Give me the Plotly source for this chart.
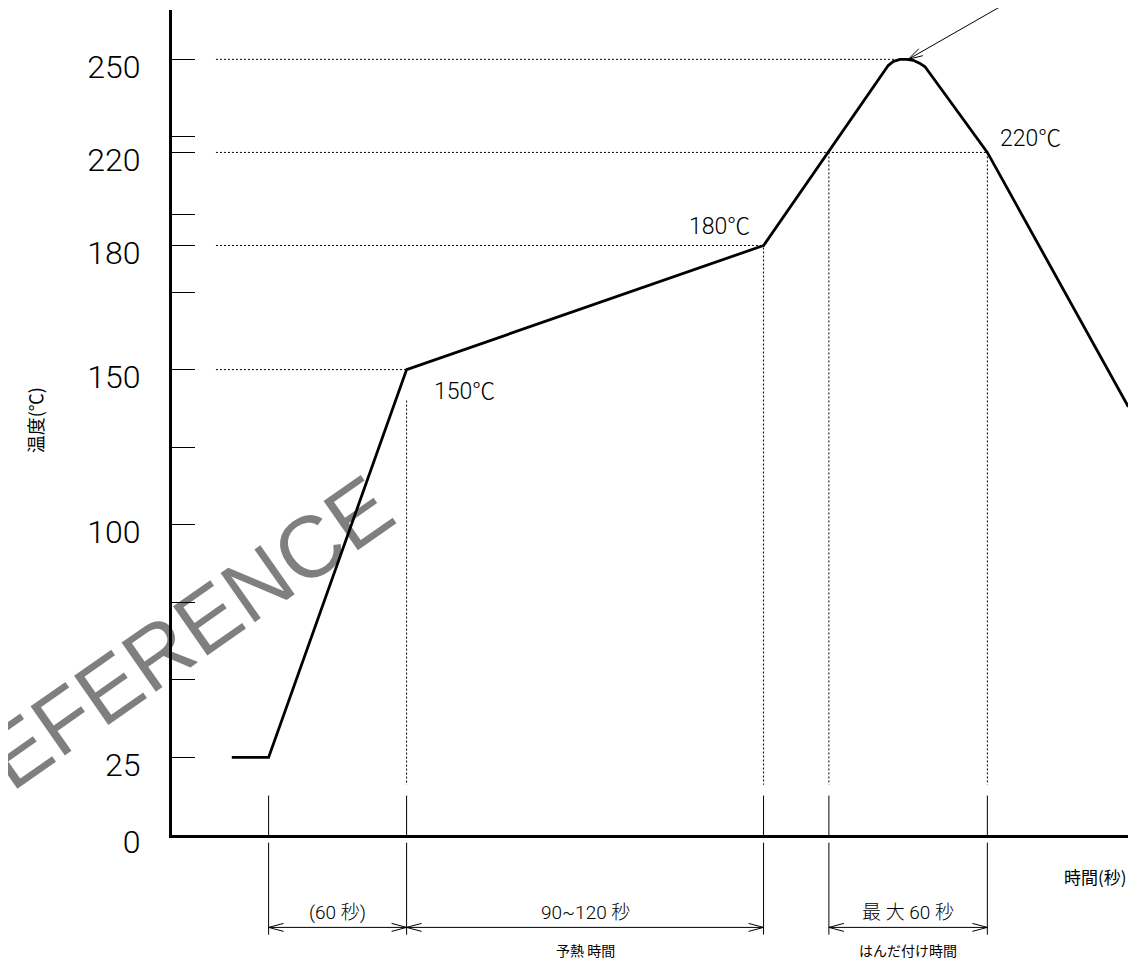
import numpy as np
import plotly.graph_objects as go

# ---------------- data (schematic reflow soldering profile) ----------------
time_s = [26, 42, 102, 257.2, 311.4, 313.6, 316.5, 319.4, 322.3, 325.2, 327.4, 354.5, 415.8]
temp_c = [25, 25, 150, 180, 248.0, 249.3, 250.0, 250.0, 249.7, 248.7, 247.6, 220, 138]

tick_temps = [0, 25, 100, 150, 180, 220, 250]
tick_texts = ["0", "25", "100", "150", "180", "220", "250"]
tick_axis_pos = [0, 25, 100, 150, 190, 220, 250]      # schematic (non-linear) drawing scale
minor_axis_pos = [50, 75, 125, 175, 200, 225]

ref_temps = [150, 180, 220, 250]
ref_end_times = [102, 257.2, 354.5, 315.0]

phase_times = [42, 102, 257.2, 285.6, 354.5]
phase_temps = [25, 150, 180, 220, 220]

point_labels = ["150℃", "180℃", "220℃"]
point_idx = [1, 2, 4]

dim_upper = ["(60 秒)", "90~120 秒", "最 大 60 秒"]
dim_lower = ["", "予熱 時間", "はんだ付け時間"]
dim_spans = [(0, 1), (1, 2), (3, 4)]

x_title = "時間(秒)"
y_title = "温度(℃)"
watermark = "REFERENCE"


def to_axis(t):
    return np.interp(t, tick_temps, tick_axis_pos)


NARROW = "Roboto, Liberation Sans, Noto Sans CJK JP, sans-serif"
CJK = "Noto Sans CJK JP, sans-serif"
PX_Y = 3.104  # pixels per y unit (for small pixel gaps)

fig = go.Figure()
fig.add_trace(go.Scatter(x=time_s, y=to_axis(temp_c), mode="lines",
                         line=dict(color="black", width=2.8), hoverinfo="skip"))

shapes = []
dot = dict(color="black", width=1, dash="2px,2px")
# horizontal reference lines
for T, te in zip(ref_temps, ref_end_times):
    yy = float(to_axis(T))
    shapes.append(dict(type="line", xref="x", yref="y", x0=19.1, x1=te, y0=yy, y1=yy, line=dot))
# vertical dotted lines down from the curve
gaps_px = [None, 31, 2, 0, 0]
for t, T, g in zip(phase_times, phase_temps, gaps_px):
    if g is None:
        continue
    shapes.append(dict(type="line", xref="x", yref="y", x0=t, x1=t,
                       y0=float(to_axis(T)) - g / PX_Y, y1=16.2, line=dot))
# solid extension lines (above and below the time axis)
for t in phase_times:
    shapes.append(dict(type="line", xref="x", yref="y", x0=t, x1=t, y0=0, y1=12.7,
                       line=dict(color="black", width=1)))
    shapes.append(dict(type="line", xref="x", yref="paper", x0=t, x1=t, y0=-0.0093, y1=-0.1208,
                       line=dict(color="black", width=1)))
# dimension lines with open arrowheads
ydim = -0.112
for a, b in dim_spans:
    ta, tb = phase_times[a], phase_times[b]
    shapes.append(dict(type="line", xref="x", yref="paper", x0=ta, x1=tb, y0=ydim, y1=ydim,
                       line=dict(color="black", width=1)))
    for tip, sgn in ((ta, 1), (tb, -1)):
        shapes.append(dict(type="path", xref="x", yref="paper", xsizemode="pixel", ysizemode="pixel",
                           xanchor=tip, yanchor=ydim,
                           path=f"M{15*sgn},4 L0,0 L{15*sgn},-4",
                           line=dict(color="black", width=1)))
# arrowhead of the peak pointer
ang = np.arctan2(59, 104)
p1 = (15 * np.cos(ang + 0.27), 15 * np.sin(ang + 0.27))
p2 = (15 * np.cos(ang - 0.27), 15 * np.sin(ang - 0.27))
peak_t, peak_y = 320.1, 250.0
shapes.append(dict(type="path", xref="x", yref="y", xsizemode="pixel", ysizemode="pixel",
                   xanchor=peak_t, yanchor=peak_y,
                   path=f"M{p1[0]:.2f},{p1[1]:.2f} L0,0 L{p2[0]:.2f},{p2[1]:.2f}",
                   line=dict(color="black", width=1)))

ann = []
# peak pointer line (tail leaves the top of the page)
ann.append(dict(x=peak_t, y=peak_y, xref="x", yref="y", text="", showarrow=True,
                arrowhead=0, arrowwidth=1, arrowcolor="black",
                axref="x", ayref="y", ax=377.4, ay=274.3, standoff=0))
# point labels
offs = [(25, -22, "left"), (-12, 19, "right"), (11, 14, "left")]
for lab, i, (dx, dy, xa) in zip(point_labels, point_idx, offs):
    ann.append(dict(x=phase_times[i], y=float(to_axis(phase_temps[i])), xref="x", yref="y",
                    text=lab, showarrow=False, xanchor=xa, yanchor="middle", xshift=dx, yshift=dy,
                    font=dict(family=NARROW, size=23, color="black", weight=300)))
# dimension texts
for (a, b), up, lo in zip(dim_spans, dim_upper, dim_lower):
    xm = (phase_times[a] + phase_times[b]) / 2
    ann.append(dict(x=xm, y=-0.094, xref="x", yref="paper", text=up, showarrow=False,
                    xanchor="center", yanchor="middle",
                    font=dict(family=NARROW, size=19, color="black", weight=300)))
    if lo:
        ann.append(dict(x=xm, y=-0.139, xref="x", yref="paper", text=lo, showarrow=False,
                        xanchor="center", yanchor="middle",
                        font=dict(family=CJK, size=14, color="black")))
# axis titles
ann.append(dict(x=0.9665, y=-0.0505, xref="paper", yref="paper", text=x_title, showarrow=False,
                xanchor="center", yanchor="middle", font=dict(family=CJK, size=17, color="black")))
ann.append(dict(x=-0.143, y=0.503, xref="paper", yref="paper", text=y_title, showarrow=False,
                textangle=-90, xanchor="center", yanchor="middle",
                font=dict(family=CJK, size=18, color="black")))
# watermark
ann.append(dict(x=-0.0096, y=0.2245, xref="paper", yref="paper", text=watermark, showarrow=False,
                textangle=-35, xanchor="center", yanchor="middle",
                font=dict(family="Liberation Sans, Arial, sans-serif", size=87, color="rgba(0,0,0,0.5)")))

fig.update_layout(
    width=1136, height=951, autosize=False,
    margin=dict(l=164, r=16, t=2, b=123.7),
    paper_bgcolor="white", plot_bgcolor="white", showlegend=False,
    shapes=shapes, annotations=ann,
    xaxis=dict(range=[0, 415.65], showline=True, linewidth=3, linecolor="black",
               showticklabels=False, ticks="", showgrid=False, zeroline=False),
    yaxis=dict(range=[0, 265.9], showline=True, linewidth=3, linecolor="black",
               tickvals=tick_axis_pos + minor_axis_pos,
               ticktext=tick_texts + [""] * len(minor_axis_pos),
               ticks="inside", ticklen=23, tickwidth=1.3, tickcolor="black",
               tickfont=dict(family=NARROW, size=32, color="black", weight=300),
               ticklabelstandoff=22, ticklabelshift=7,
               showgrid=False, zeroline=False),
)

fig.write_html("out.html")
